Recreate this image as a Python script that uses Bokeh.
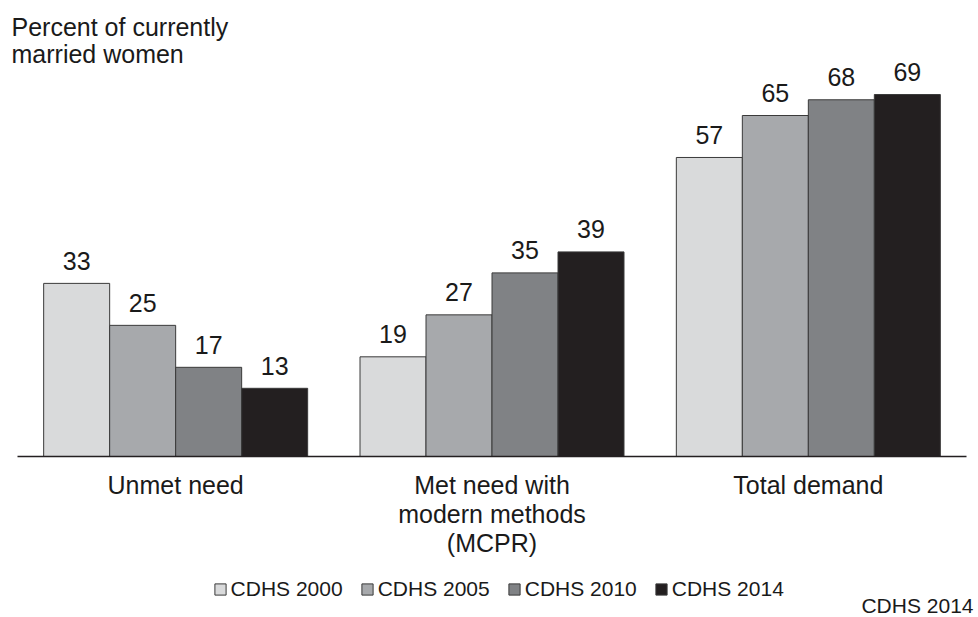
from bokeh.plotting import figure
from bokeh.models import ColumnDataSource, Range1d, Legend, LegendItem
from bokeh.core.properties import value
from bokeh.embed import file_html
from bokeh.resources import INLINE

categories = ["Unmet need", "Met need with\nmodern methods\n(MCPR)", "Total demand"]
series_names = ["CDHS 2000", "CDHS 2005", "CDHS 2010", "CDHS 2014"]
cdhs_2000 = [33, 19, 57]
cdhs_2005 = [25, 27, 65]
cdhs_2010 = [17, 35, 68]
cdhs_2014 = [13, 39, 69]
series_values = [cdhs_2000, cdhs_2005, cdhs_2010, cdhs_2014]
colors = ["#d9dadb", "#a7a9ac", "#808285", "#231f20"]
title_text = "Percent of currently\nmarried women"
source_text = "CDHS 2014"

FONT = "Liberation Sans"
TXT = "#1a1a1a"
W, H = 978, 617
# layout: px x = 17 + PX_U*u ; px y = 456 - PX_V*v
PX_U = 949 / 3.0
PX_V = 5.246
x0 = -17 / PX_U
x1 = (W - 17) / PX_U
y1 = 456 / PX_V
y0 = (456 - H) / PX_V

p = figure(width=W, height=H, output_backend="svg", toolbar_location=None,
           x_range=Range1d(x0, x1), y_range=Range1d(y0, y1),
           min_border=0, min_border_left=0, min_border_right=0,
           min_border_top=0, min_border_bottom=0)
p.axis.visible = False
p.grid.visible = False
p.outline_line_color = None
p.background_fill_color = "white"

bar_w = 66 / PX_U
lab_gap = 22.5 / PX_V
n = len(series_names)
items = []
for i, (name, vals, col) in enumerate(zip(series_names, series_values, colors)):
    off = (i - (n - 1) / 2) * bar_w
    xs = [g + 0.5 + off for g in range(len(categories))]
    src = ColumnDataSource(dict(x=xs, top=vals, ly=[v + lab_gap for v in vals],
                                lab=[str(v) for v in vals]))
    r = p.vbar(x="x", top="top", bottom=0, width=bar_w, source=src,
               fill_color=col, line_color="#3a3a3a", line_width=1)
    p.text(x="x", y="ly", text="lab", source=src, text_align="center",
           text_baseline="alphabetic",
           text_font=value(FONT), text_font_size="25px", text_color=TXT)
    items.append(LegendItem(label=name, renderers=[r]))

# baseline
p.segment(x0=[0], y0=[0], x1=[len(categories)], y1=[0], line_color="#231f20", line_width=1.5)

# category labels
cat_src = ColumnDataSource(dict(x=[g + 0.5 for g in range(len(categories))],
                                y=[(456 - 470) / PX_V] * len(categories), t=categories))
p.text(x="x", y="y", text="t", source=cat_src, text_align="center", text_baseline="top",
       text_line_height=1.04, text_font=value(FONT), text_font_size="25px", text_color=TXT)

# title
p.text(x=[(11 - 17) / PX_U], y=[(456 - 12) / PX_V], text=[title_text], text_align="left",
       text_baseline="top", text_line_height=0.97, text_font=value(FONT),
       text_font_size="25px", text_color=TXT)

# source note
p.text(x=[(973 - 17) / PX_U], y=[(456 - 605) / PX_V], text=[source_text], text_align="right",
       text_baseline="alphabetic", text_font=value(FONT), text_font_size="21px",
       text_color=TXT)

legend = Legend(items=items, orientation="horizontal", location=(212.6, 16.5),
                glyph_width=14, glyph_height=14, label_standoff=4, spacing=17,
                padding=0, margin=0, border_line_alpha=0, background_fill_alpha=0,
                label_text_font=FONT, label_text_font_size="21px", label_text_color=TXT)
p.add_layout(legend, "center")

open("out.html", "w").write(file_html(p, INLINE))
